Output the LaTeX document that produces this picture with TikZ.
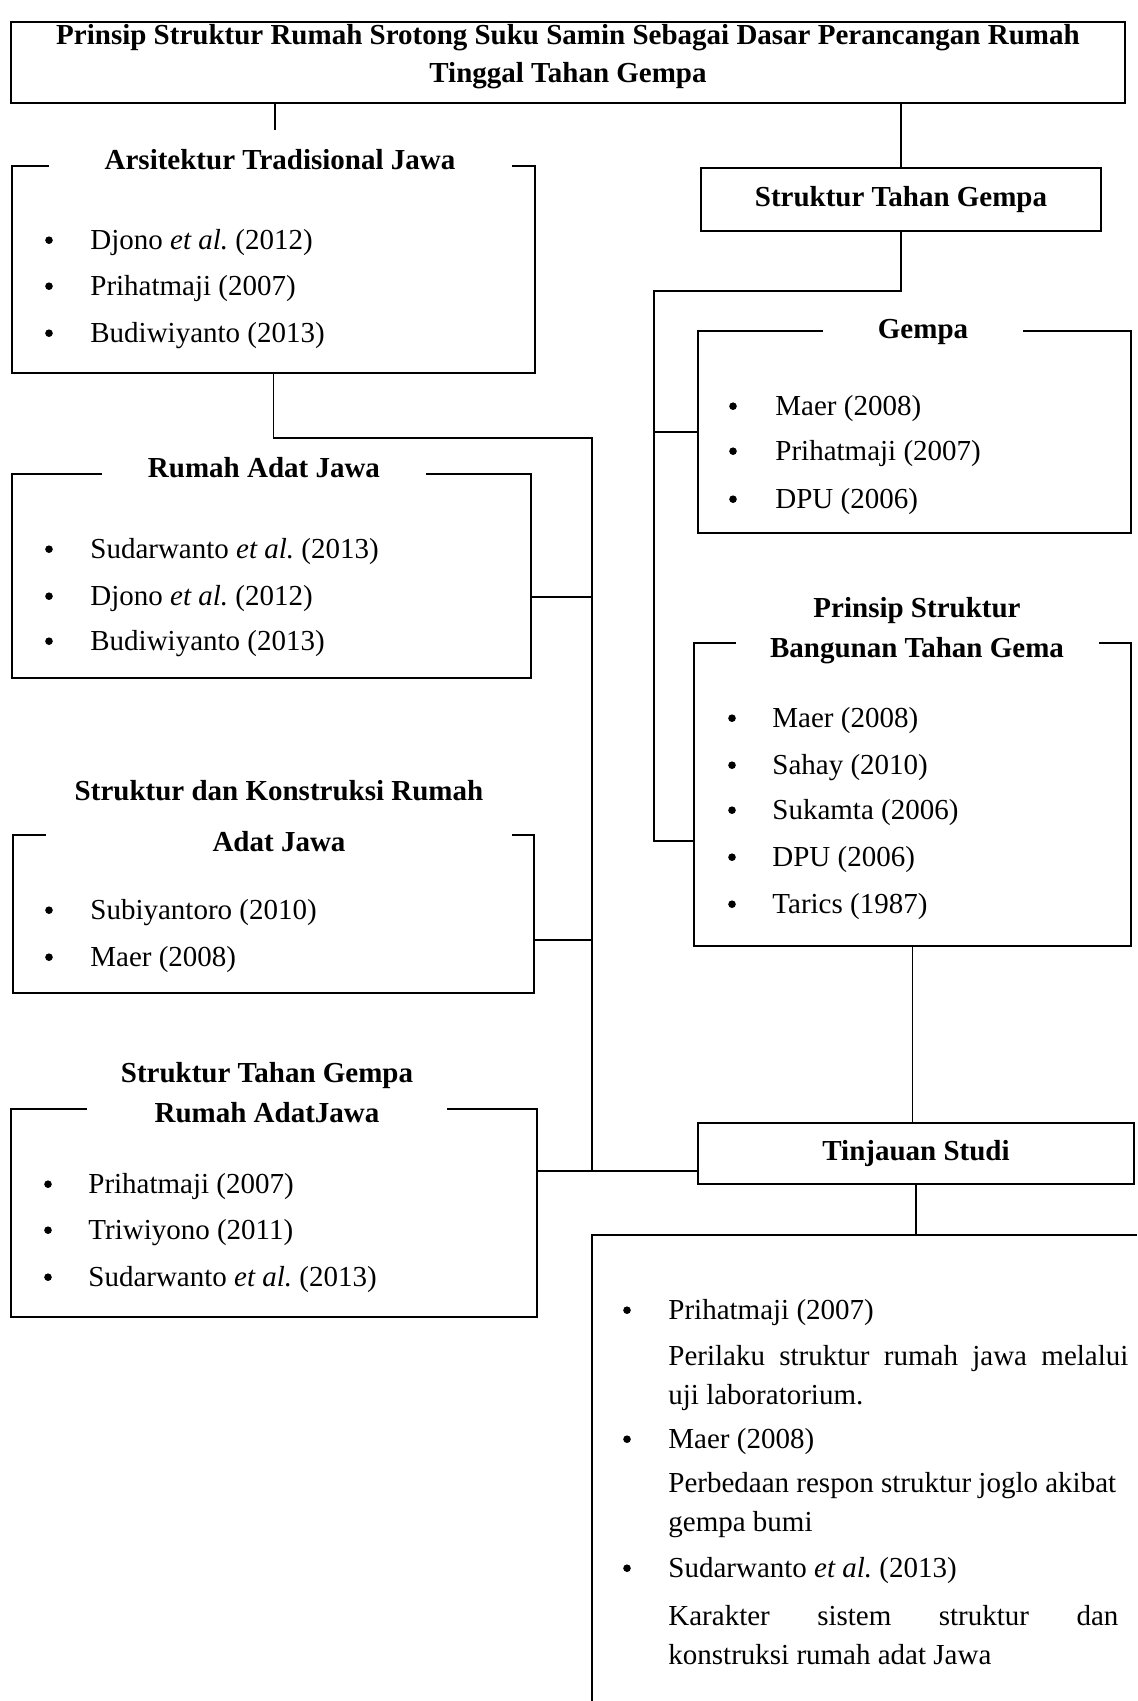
\documentclass[tikz,border=0pt]{standalone}
\usepackage{fontspec}
\setmainfont{Liberation Serif}
\usetikzlibrary{positioning, fit, calc}
\frenchspacing

\begin{document}
\begin{tikzpicture}[x=0.5pt, y=-0.5pt,
  font=\fontsize{14.5}{19}\selectfont,
  box/.style={draw, line width=0.6pt, inner sep=0pt},
  bold/.style={font=\fontsize{14.5}{19}\selectfont\bfseries, inner sep=1pt},
  head/.style={bold, fill=white, inner xsep=0pt},
  item/.style={anchor=west, inner sep=0pt, yshift=-1.6pt},
  dot/.style={circle, fill=black, minimum size=3.8pt, inner sep=0pt, yshift=-0.6pt},
  conn/.style={line width=0.6pt},
]
\useasboundingbox (0,0) rectangle (1137,1701);

%% Title box
\node[box, fit={(11,22) (1125,103)}] (top) {};
\node[bold] (topA) at (568,38)
  {Prinsip Struktur Rumah Srotong Suku Samin Sebagai Dasar Perancangan Rumah};
\node[bold] (topB) at (568,76) {Tinggal Tahan Gempa};

%% Column 1 — left
\node[box, fit={(12,166) (535,373)}] (ars) {};
\node[head, minimum width=231.5pt] (arsT) at (280,160) {Arsitektur Tradisional Jawa};
\foreach \y/\txt [count=\i] in {
  239/{Djono \textit{et al.} (2012)}, 285/{Prihatmaji (2007)}, 332/{Budiwiyanto (2013)}}{
  \node[dot] (arsB\i) at (49,\y) {};
  \node[item] (ars\i) at (90,\y) {\txt};
}

\node[box, fit={(12,474) (531,678)}] (rad) {};
\node[head, minimum width=162pt] (radT) at (264,468) {Rumah Adat Jawa};
\foreach \y/\txt [count=\i] in {
  548/{Sudarwanto \textit{et al.} (2013)}, 595/{Djono \textit{et al.} (2012)},
  640/{Budiwiyanto (2013)}}{
  \node[dot] (radB\i) at (49,\y) {};
  \node[item] (rad\i) at (90,\y) {\txt};
}

\node[box, fit={(13,835) (534,993)}] (sdk) {};
\node[bold] (sdkA) at (279,791) {Struktur dan Konstruksi Rumah};
\node[head, minimum width=233pt] (sdkT) at (279,842) {Adat Jawa};
\foreach \y/\txt [count=\i] in {909/{Subiyantoro (2010)}, 956/{Maer (2008)}}{
  \node[dot] (sdkB\i) at (49,\y) {};
  \node[item] (sdk\i) at (90,\y) {\txt};
}

\node[box, fit={(11,1109) (537,1317)}] (stgr) {};
\node[bold] (stgrA) at (267,1076) {Struktur Tahan Gempa};
\node[head, minimum width=180pt] (stgrT) at (267,1113) {Rumah AdatJawa};
\foreach \y/\txt [count=\i] in {
  1183/{Prihatmaji (2007)}, 1229/{Triwiyono (2011)}, 1276/{Sudarwanto \textit{et al.} (2013)}}{
  \node[dot] (stgrB\i) at (48,\y) {};
  \node[item] (stgr\i) at (88,\y) {\txt};
}

%% Column 2 — right
\node[box, fit={(701,168) (1101,231)}] (stg) {};
\node[bold] (stgT) at (stg.center) {Struktur Tahan Gempa};

\node[box, fit={(698,331) (1131,533)}] (gem) {};
\node[head, minimum width=100pt] (gemT) at (923,332) {Gempa};
\foreach \y/\txt [count=\i] in {405/{Maer (2008)}, 450/{Prihatmaji (2007)}, 498/{DPU (2006)}}{
  \node[dot] (gemB\i) at (733,\y) {};
  \node[item] (gem\i) at (775,\y) {\txt};
}

\node[box, fit={(694,643) (1131,946)}] (pst) {};
\node[bold] (pstA) at (917,611) {Prinsip Struktur};
\node[head, minimum width=181.5pt] (pstT) at (917,651) {Bangunan Tahan Gema};
\foreach \y/\txt [count=\i] in {
  717/{Maer (2008)}, 764/{Sahay (2010)}, 809/{Sukamta (2006)},
  856/{DPU (2006)}, 903/{Tarics (1987)}}{
  \node[dot] (pstB\i) at (732,\y) {};
  \node[item] (pst\i) at (772,\y) {\txt};
}

\node[box, fit={(698,1123) (1134,1184)}] (tin) {};
\node[bold] (tinT) at (tin.center) {Tinjauan Studi};

%% Open box below Tinjauan Studi
\foreach \y/\txt [count=\i] in {
  1309/{Prihatmaji (2007)}, 1438/{Maer (2008)}, 1567/{Sudarwanto \textit{et al.} (2013)}}{
  \node[dot] (lstB\i) at (627,\y) {};
  \node[item] (lst\i) at (668,\y) {\txt};
}
\node[item] (lstD1) at (668,1355) {\makebox[230pt][s]{Perilaku struktur rumah jawa melalui}};
\node[item] (lstD2) at (668,1394) {uji laboratorium.};
\node[item] (lstD3) at (668,1482) {Perbedaan respon struktur joglo akibat};
\node[item] (lstD4) at (668,1521) {gempa bumi};
\node[item] (lstD5) at (668,1612) {\makebox[225pt][s]{Karakter sistem struktur dan}};
\node[item] (lstD6) at (668,1651) {konstruksi rumah adat Jawa};

%% Connectors — left
\coordinate (c0) at (275,130);
\coordinate (spTop) at (592,438);
\coordinate (spRad) at (592,597);
\coordinate (spSdk) at (592,940);
\coordinate (spBot) at (592,1171);
\draw[conn] (top.south -| c0) -- (c0);
\draw[conn] (ars.south) |- (spTop) -- (spBot);
\draw[conn] (rad.east |- spRad) -- (spRad);
\draw[conn] (sdk.east |- spSdk) -- (spSdk);
\draw[conn] (stgr.east |- spBot) -- (tin.west |- spBot);

%% Connectors — right
\coordinate (r0) at (654,291);
\coordinate (r1) at (654,432);
\coordinate (r2) at (654,841);
\draw[conn] (top.south -| stg.north) -- (stg.north);
\draw[conn] (stg.south) |- (r0) -- (r2) -- (pst.west |- r2);
\draw[conn] (r1) -- (gem.west |- r1);
\draw[conn] (pst.south) -- (pst.south |- tin.north);

%% Lower open box
\coordinate (b0) at (592,1235);
\coordinate (b1) at (1137,1235);
\coordinate (b2) at (592,1701);
\draw[conn] (tin.south) -- (tin.south |- b0);
\draw[conn] (b1) -- (b0) -- (b2);
\end{tikzpicture}
\end{document}
